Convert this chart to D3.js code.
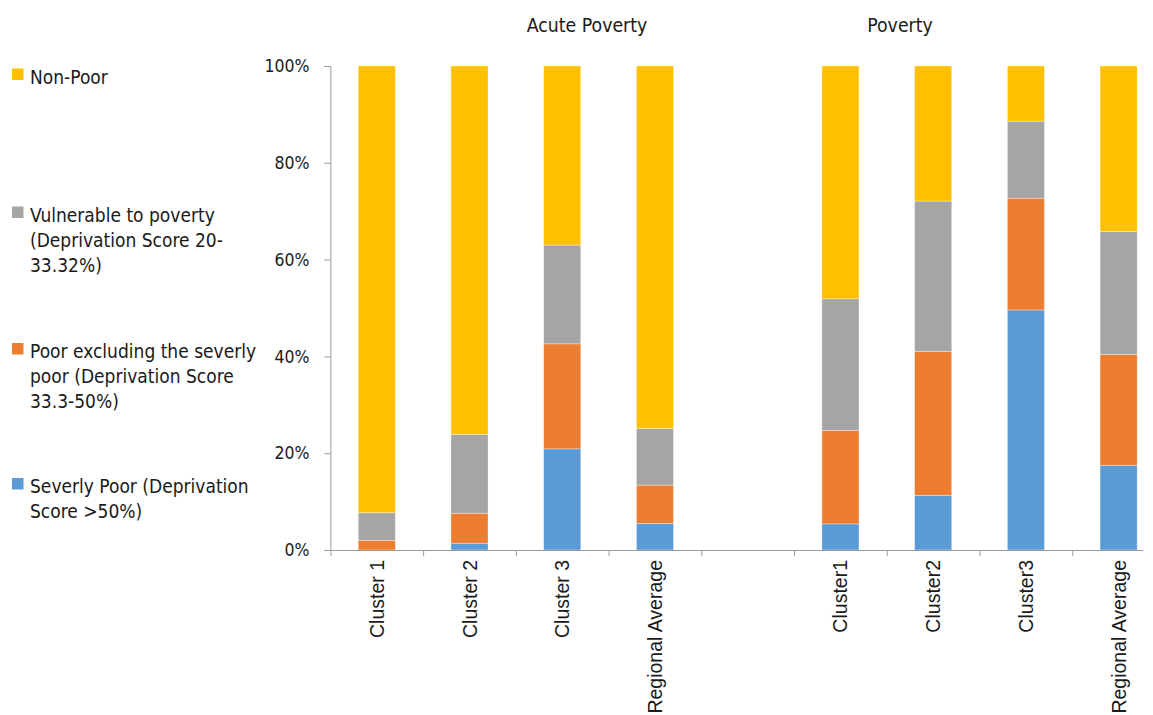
<!DOCTYPE html>
<html>
<head>
<meta charset="utf-8">
<script src="https://cdn.jsdelivr.net/npm/d3@7"></script>
<style>
  html, body { margin: 0; padding: 0; background: #fff; }
  svg { display: block; }
  .narrow { font-family: "DejaVu Sans Condensed", "DejaVu Sans", sans-serif; font-stretch: condensed; fill: #1a1a1a; }
  .xlab { font-family: "Liberation Sans", Arial, sans-serif; fill: #1a1a1a; }
</style>
</head>
<body>
<script>
// Categories along the x axis (the empty slot separates the two groups)
const categories = ["Cluster 1", "Cluster 2", "Cluster 3", "Regional Average", "", "Cluster1", "Cluster2", "Cluster3", "Regional Average"];
const groupTitles = ["Acute Poverty", "Poverty"];
const yTicks = [0, 20, 40, 60, 80, 100];

// Share of population (%) in each deprivation band
const severelyPoor   = [0.0, 1.4, 20.9, 5.5, null, 5.4, 11.3, 49.6, 17.5];
const poorExclSevere = [2.0, 6.2, 21.7, 7.9, null, 19.3, 29.7, 23.1, 22.9];
const vulnerable     = [5.7, 16.3, 20.4, 11.7, null, 27.2, 31.1, 15.9, 25.4];
const nonPoor        = [92.3, 76.1, 37.0, 74.9, null, 48.1, 27.9, 11.4, 34.2];

const seriesValues = [severelyPoor, poorExclSevere, vulnerable, nonPoor];
const colors = ["#5B9BD5", "#ED7D31", "#A5A5A5", "#FFC000"];

// Legend text, one entry per line, listed top to bottom
const legendLines = [
  ["Non-Poor"],
  ["Vulnerable to poverty", "(Deprivation Score 20-", "33.32%)"],
  ["Poor excluding the severly", "poor (Deprivation Score", "33.3-50%)"],
  ["Severly Poor (Deprivation", "Score >50%)"]
];
const legendColors = ["#FFC000", "#A5A5A5", "#ED7D31", "#5B9BD5"];

const W = 1153, H = 715;
const svg = d3.select("body").append("svg").attr("width", W).attr("height", H);

const plotLeft = 330.4, plotRight = 1165, plotTop = 66, plotBottom = 550;
const keys = categories.map((c, i) => i);

const x = d3.scaleBand().domain(keys).range([plotLeft, plotRight]).paddingInner(0.6).paddingOuter(0.3);
const y = d3.scaleLinear().domain([0, 100]).range([plotBottom, plotTop]);
const slot = d3.scaleLinear().domain([0, categories.length]).range([plotLeft, plotRight]);

// Stack the series per category
const rows = keys.map(i => {
  const r = { key: i };
  seriesValues.forEach((arr, s) => { r["s" + s] = arr[i] == null ? 0 : arr[i]; });
  return r;
});
const stack = d3.stack().keys(seriesValues.map((_, s) => "s" + s));
const layers = stack(rows);

svg.append("defs").append("clipPath").attr("id", "plotClip")
  .append("rect").attr("x", 0).attr("y", 0).attr("width", 1143).attr("height", H);

svg.append("g").selectAll("g")
  .data(layers).join("g")
  .attr("fill", (d, i) => colors[i])
  .selectAll("rect")
  .data(d => d.filter(p => seriesValues[0][p.data.key] != null && p[1] > p[0]))
  .join("rect")
  .attr("x", d => x(d.data.key))
  .attr("width", x.bandwidth())
  .attr("y", d => y(d[1]))
  .attr("height", d => y(d[0]) - y(d[1]))
  .attr("stroke", "#fff")
  .attr("stroke-width", 0.75)
  .attr("stroke-opacity", 0.45);

// Y axis
const yAxis = svg.append("g").attr("transform", `translate(${plotLeft},0)`)
  .call(d3.axisLeft(y).tickValues(yTicks).tickSize(6).tickPadding(15).tickFormat(d => d + "%"));
yAxis.select(".domain").attr("stroke", "#9a9a9a");
yAxis.selectAll(".tick line").attr("stroke", "#9a9a9a");
yAxis.selectAll(".tick text").attr("class", "narrow").attr("font-size", 17.5).attr("fill", "#1a1a1a");

// X axis: baseline with ticks on category boundaries
const xBase = svg.append("g").attr("transform", `translate(0,${plotBottom})`).attr("clip-path", "url(#plotClip)")
  .call(d3.axisBottom(slot).tickValues(d3.range(categories.length + 1)).tickSize(6).tickSizeOuter(0).tickFormat(""));
xBase.select(".domain").attr("stroke", "#9a9a9a");
xBase.selectAll(".tick line").attr("stroke", "#9a9a9a");

// Rotated category labels
const xLab = svg.append("g").attr("transform", `translate(0,${plotBottom})`)
  .call(d3.axisBottom(x).tickSize(0).tickFormat(i => categories[i]));
xLab.select(".domain").remove();
xLab.selectAll(".tick text")
  .attr("class", "xlab")
  .attr("font-size", 19.5)
  .attr("fill", "#1a1a1a")
  .attr("transform", "rotate(-90)")
  .attr("text-anchor", "end")
  .attr("x", -10)
  .attr("y", 0)
  .attr("dy", "0.36em");

// Group titles
const titlePos = [587, 900];
svg.append("g").selectAll("text").data(groupTitles).join("text")
  .attr("class", "narrow")
  .attr("x", (d, i) => titlePos[i])
  .attr("y", 32)
  .attr("text-anchor", "middle")
  .attr("font-size", 19.3)
  .text(d => d);

// Legend
const legendY = [83.5, 221.5, 358, 493];
const lineH = 25;
const lg = svg.append("g");
legendLines.forEach((lines, i) => {
  lg.append("rect")
    .attr("x", 12).attr("y", legendY[i] - 15)
    .attr("width", 11.5).attr("height", 11.5)
    .attr("fill", legendColors[i]);
  const t = lg.append("text").attr("class", "narrow").attr("font-size", 19)
    .attr("x", 30).attr("y", legendY[i]);
  lines.forEach((ln, j) => {
    t.append("tspan").attr("x", 30).attr("y", legendY[i] + j * lineH).text(ln);
  });
});
</script>
</body>
</html>
